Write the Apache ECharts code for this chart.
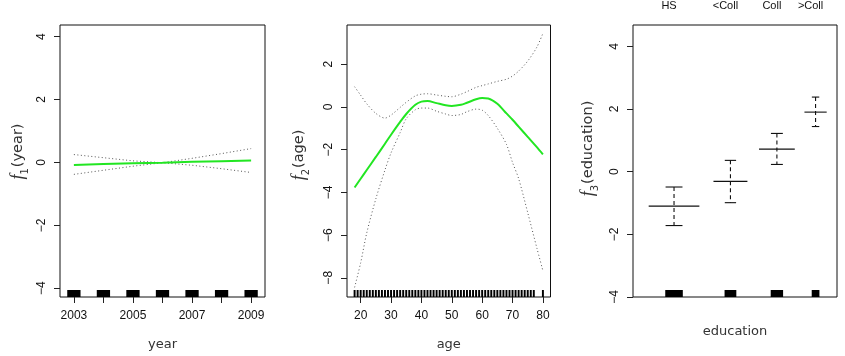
<!DOCTYPE html>
<html><head><meta charset="utf-8">
<script src="https://cdn.jsdelivr.net/npm/echarts@6/dist/echarts.min.js"></script>
<style>html,body{margin:0;padding:0;background:#fff}#c{width:845px;height:356px}</style>
</head><body><div id="c"></div>
<script>
// ---- Panel 1: year ----
const years = [2003, 2004, 2005, 2006, 2007, 2008, 2009];
const yearFit = [-0.08, -0.05, -0.03, -0.01, 0.02, 0.04, 0.06];
const yearBandA = [0.25, 0.15, 0.05, -0.01, -0.09, -0.20, -0.32];
const yearBandB = [-0.38, -0.25, -0.12, -0.01, 0.13, 0.28, 0.44];
const yearTickLabels = [2003, 2005, 2007, 2009];

// ---- Panel 2: age ----
const ages = [18, 20, 22, 25, 28, 30, 33, 35, 38, 40, 42, 45, 48, 50, 53, 55, 58, 60, 62, 65, 68, 70, 72, 75, 78, 80];
const ageFit = [-3.77, -3.36, -2.95, -2.34, -1.72, -1.30, -0.70, -0.33, 0.10, 0.25, 0.28, 0.18, 0.08, 0.05, 0.10, 0.20, 0.36, 0.42, 0.40, 0.15, -0.30, -0.60, -0.92, -1.40, -1.88, -2.22];
const ageUpper = [0.95, 0.55, 0.15, -0.30, -0.52, -0.38, -0.02, 0.22, 0.52, 0.60, 0.62, 0.56, 0.50, 0.48, 0.60, 0.72, 0.92, 1.00, 1.08, 1.20, 1.30, 1.45, 1.68, 2.15, 2.80, 3.45];
const ageLower = [-8.45, -7.30, -5.90, -4.30, -2.95, -2.15, -1.20, -0.55, -0.13, -0.05, -0.05, -0.20, -0.33, -0.40, -0.35, -0.22, -0.10, -0.15, -0.40, -1.00, -1.75, -2.60, -3.35, -4.95, -6.60, -7.67];
const rugAges = [18,19,20,21,22,23,24,25,26,27,28,29,30,31,32,33,34,35,36,37,38,39,40,41,42,43,44,45,46,47,48,49,50,51,52,53,54,55,56,57,58,59,60,61,62,63,64,65,66,67,68,69,70,71,72,73,74,75,76,77,80];
const ageTicks = [20, 30, 40, 50, 60, 70, 80];

// ---- Panel 3: education ----
const eduBaseCount = 268;            // "< HS Grad" level, outside plotted range
const eduLevels = ['HS', '<Coll', 'Coll', '>Coll'];
const eduCounts = [971, 650, 685, 426];
const eduFit = [-1.10, -0.31, 0.72, 1.90];
const eduUpper = [-0.49, 0.36, 1.22, 2.38];
const eduLower = [-1.72, -0.99, 0.23, 1.44];

const yTicksA = [-4, -2, 0, 2, 4];
const yTicksB = [-8, -6, -4, -2, 0, 2];

// derived positions for education levels (cumulative counts)
const eduPos = [];
{ let acc = eduBaseCount; eduCounts.forEach(c => { eduPos.push(acc + c / 2); acc += c; }); }

const GREEN = '#22e622';
const tickFont = { fontFamily: 'Liberation Sans', fontSize: 12, color: '#111' };
const titleFont = { fontFamily: 'DejaVu Sans', fontSize: 13, color: '#333' };

function ylabName(sub, txt) { return '{f|f}{s|' + sub + '}{t|(' + txt + ')}'; }
const ylabRich = {
  f: { fontFamily: 'Liberation Serif', fontStyle: 'italic', fontSize: 18, color: '#333' },
  s: { fontFamily: 'DejaVu Sans', fontSize: 10, color: '#333', verticalAlign: 'bottom', padding: [0, 1, -3, 0] },
  t: { fontFamily: 'DejaVu Sans', fontSize: 14.5, color: '#333' }
};

function rugRender(yMin, h) {
  return function (params, api) {
    const x = api.value(0), hw = api.value(1);
    const p0 = api.coord([x - hw, yMin]);
    const p1 = api.coord([x + hw, yMin]);
    return { type: 'rect', shape: { x: p0[0], y: p0[1] - h, width: Math.max(1.2, p1[0] - p0[0]), height: h }, style: { fill: '#000' } };
  };
}

function yAxisCfg(gi, min, max, ticks, name, padLeft, gap) {
  return {
    type: 'value', gridIndex: gi, min: min, max: max,
    axisLine: { show: false, onZero: false }, splitLine: { show: false },
    axisTick: { show: true, length: 6, lineStyle: { color: '#222' }, customValues: ticks },
    axisLabel: Object.assign({ rotate: 90, margin: 12, customValues: ticks, formatter: v => String(v).replace('-', '\u2212') }, tickFont),
    name: name, nameLocation: 'middle', nameRotate: 90, nameGap: gap,
    nameTextStyle: { rich: ylabRich, padding: [0, 0, 0, padLeft] }
  };
}

const chart = echarts.init(document.getElementById('c'), null, { renderer: 'canvas' });
chart.setOption({
  animation: false,
  backgroundColor: '#fff',
  grid: [
    { left: 60, top: 25, width: 205, height: 272, show: true, borderColor: '#111', borderWidth: 1, backgroundColor: 'transparent' },
    { left: 347, top: 25, width: 203.5, height: 272, show: true, borderColor: '#111', borderWidth: 1, backgroundColor: 'transparent' },
    { left: 633, top: 25, width: 204, height: 272, show: true, borderColor: '#111', borderWidth: 1, backgroundColor: 'transparent' }
  ],
  xAxis: [
    {
      type: 'value', gridIndex: 0, min: 2002.53, max: 2009.47,
      axisLine: { show: false, onZero: false }, splitLine: { show: false },
      axisTick: { show: true, length: 6, lineStyle: { color: '#222' }, customValues: years },
      axisLabel: Object.assign({ margin: 13, customValues: yearTickLabels, formatter: v => String(v) }, tickFont),
      name: 'year', nameLocation: 'middle', nameGap: 41, nameTextStyle: titleFont
    },
    {
      type: 'value', gridIndex: 1, min: 15.5, max: 82.5,
      axisLine: { show: false, onZero: false }, splitLine: { show: false },
      axisTick: { show: true, length: 6, lineStyle: { color: '#222' }, customValues: ageTicks },
      axisLabel: Object.assign({ margin: 13, customValues: ageTicks, formatter: v => String(v) }, tickFont),
      name: 'age', nameLocation: 'middle', nameGap: 41, nameTextStyle: titleFont
    },
    {
      type: 'value', gridIndex: 2, min: 164, max: 3095,
      axisLine: { show: false, onZero: false }, splitLine: { show: false },
      axisTick: { show: false }, axisLabel: { show: false },
      name: 'education', nameLocation: 'middle', nameGap: 28, nameTextStyle: titleFont
    },
    {
      type: 'value', gridIndex: 2, min: 164, max: 3095, position: 'top',
      axisLine: { show: false, onZero: false }, splitLine: { show: false }, axisTick: { show: false },
      axisLabel: Object.assign({}, tickFont, {
        fontSize: 11, margin: 14, customValues: eduPos, padding: [0, 10, 0, 0],
        formatter: v => { const i = eduPos.findIndex(p => Math.abs(p - v) < 1e-6); return i >= 0 ? eduLevels[i] : ''; }
      })
    }
  ],
  yAxis: [
    yAxisCfg(0, -4.28, 4.37, yTicksA, ylabName('1', 'year'), 19, 33),
    yAxisCfg(1, -8.9, 3.84, yTicksB, ylabName('2', 'age'), 12, 39),
    yAxisCfg(2, -4, 4.68, yTicksA, ylabName('3', 'education'), 25, 36)
  ],
  series: [
    // panel 1
    { type: 'line', xAxisIndex: 0, yAxisIndex: 0, data: years.map((x, i) => [x, yearBandA[i]]), showSymbol: false, symbol: 'none', lineStyle: { color: '#555', width: 1, type: [1, 2.5] } },
    { type: 'line', xAxisIndex: 0, yAxisIndex: 0, data: years.map((x, i) => [x, yearBandB[i]]), showSymbol: false, symbol: 'none', lineStyle: { color: '#555', width: 1, type: [1, 2.5] } },
    { type: 'line', xAxisIndex: 0, yAxisIndex: 0, data: years.map((x, i) => [x, yearFit[i]]), showSymbol: false, symbol: 'none', lineStyle: { color: GREEN, width: 2 } },
    { type: 'custom', xAxisIndex: 0, yAxisIndex: 0, renderItem: rugRender(-4.28, 7), data: years.map(x => [x, 0.225]), encode: { x: 0, y: 1 } },
    // panel 2
    { type: 'line', xAxisIndex: 1, yAxisIndex: 1, data: ages.map((x, i) => [x, ageUpper[i]]), smooth: 0.3, showSymbol: false, symbol: 'none', lineStyle: { color: '#555', width: 1, type: [1, 2.5] } },
    { type: 'line', xAxisIndex: 1, yAxisIndex: 1, data: ages.map((x, i) => [x, ageLower[i]]), smooth: 0.3, showSymbol: false, symbol: 'none', lineStyle: { color: '#555', width: 1, type: [1, 2.5] } },
    { type: 'line', xAxisIndex: 1, yAxisIndex: 1, data: ages.map((x, i) => [x, ageFit[i]]), smooth: 0.3, showSymbol: false, symbol: 'none', lineStyle: { color: GREEN, width: 2 } },
    { type: 'custom', xAxisIndex: 1, yAxisIndex: 1, renderItem: rugRender(-8.9, 7), data: rugAges.map(x => [x, 0.32]), encode: { x: 0, y: 1 } },
    // panel 3
    { type: 'custom', xAxisIndex: 2, yAxisIndex: 2, renderItem: rugRender(-4, 7), data: eduPos.map((x, i) => [x, eduCounts[i] * 0.13]), encode: { x: 0, y: 1 } },
    {
      type: 'custom', xAxisIndex: 2, yAxisIndex: 2, encode: { x: 0, y: 1 },
      data: eduPos.map((x, i) => [x, eduFit[i], eduLower[i], eduUpper[i], eduCounts[i]]),
      renderItem: function (params, api) {
        const x = api.value(0), fit = api.value(1), lo = api.value(2), hi = api.value(3), c = api.value(4);
        const cl = api.coord([x - 0.375 * c, fit]), cr = api.coord([x + 0.375 * c, fit]);
        const hl = api.coord([x - 0.125 * c, hi]), hr = api.coord([x + 0.125 * c, hi]);
        const ll = api.coord([x - 0.125 * c, lo]), lr = api.coord([x + 0.125 * c, lo]);
        const top = api.coord([x, hi]), bot = api.coord([x, lo]);
        const st = { stroke: '#111', lineWidth: 1.1 };
        return {
          type: 'group', children: [
            { type: 'line', shape: { x1: top[0], y1: top[1], x2: bot[0], y2: bot[1] }, style: { stroke: '#111', lineWidth: 1.1, lineDash: [4, 3] } },
            { type: 'line', shape: { x1: cl[0], y1: cl[1], x2: cr[0], y2: cr[1] }, style: st },
            { type: 'line', shape: { x1: hl[0], y1: hl[1], x2: hr[0], y2: hr[1] }, style: st },
            { type: 'line', shape: { x1: ll[0], y1: ll[1], x2: lr[0], y2: lr[1] }, style: st }
          ]
        };
      }
    }
  ]
});
</script></body></html>
